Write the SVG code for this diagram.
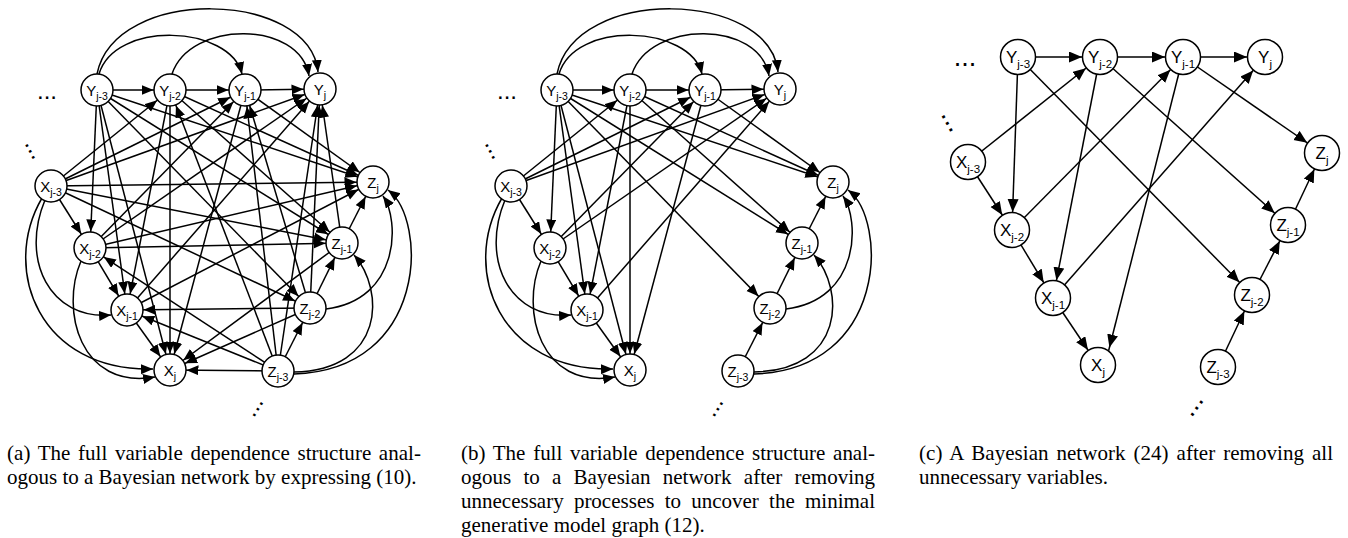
<svg xmlns="http://www.w3.org/2000/svg" width="1348" height="538" viewBox="0 0 1348 538">
<style>
.e{fill:none;stroke:#000;stroke-width:1.5}
.s{marker-end:url(#mS)}
.t{marker-end:url(#mT)}
.sc{marker-end:url(#mC)}
.n circle{fill:#fff;stroke:#000;stroke-width:1.5}
.n text{font-family:"Liberation Sans",Arial,sans-serif;font-size:15px;text-anchor:middle;fill:#000}
.n tspan{font-size:10.5px}
.nc text{font-size:17px}
.nc tspan{font-size:11.5px}
.dots{font-family:"Liberation Sans",Arial,sans-serif;font-size:24px;text-anchor:middle;fill:#000}
.cap{font-family:"Liberation Serif","Times New Roman",serif;font-size:21px;fill:#000}
</style>
<defs>
<marker id="mS" markerUnits="userSpaceOnUse" markerWidth="13" markerHeight="11" refX="28.5" refY="5" orient="auto"><path d="M0,0 L12,5 L0,10 Z"/></marker>
<marker id="mT" markerUnits="userSpaceOnUse" markerWidth="13" markerHeight="11" refX="12" refY="5" orient="auto"><path d="M0,0 L12,5 L0,10 Z"/></marker>
<marker id="mC" markerUnits="userSpaceOnUse" markerWidth="14" markerHeight="12" refX="31" refY="5.5" orient="auto"><path d="M0,0 L13,5.5 L0,11 Z"/></marker>
</defs>
<rect width="1348" height="538" fill="#fff"/>

<!-- (a) full dependence structure -->
<g id="panel-a">
<g id="edges-a" class="e">
<path class="t" d="M99,74 C115,20 230,25 242,74"/>
<path class="t" d="M97,74 C115,-15 310,-10 318,72"/>
<path class="t" d="M172,74 C190,20 300,20 309,76"/>
<path class="t" d="M42,198 C0,270 40,372 153,369"/>
<path class="t" d="M45,200 C20,260 50,320 111,315"/>
<path class="t" d="M81,261 C60,310 80,390 155,377"/>
<path class="t" d="M294,374 C428,370 428,220 388,190"/>
<path class="t" d="M294,372 C385,370 385,290 354,255"/>
<path class="t" d="M326,309 C400,300 400,220 383,196"/>
<line class="s" x1="97" y1="90" x2="170" y2="90"/>
<line class="s" x1="170" y1="90" x2="245" y2="90"/>
<line class="s" x1="245" y1="90" x2="320" y2="89"/>
<line class="s" x1="51" y1="186" x2="90" y2="248"/>
<line class="s" x1="90" y1="248" x2="127" y2="310"/>
<line class="s" x1="127" y1="310" x2="170" y2="370"/>
<line class="s" x1="278" y1="371" x2="310" y2="308"/>
<line class="s" x1="310" y1="308" x2="342" y2="243"/>
<line class="s" x1="342" y1="243" x2="373" y2="182"/>
<line class="s" x1="51" y1="186" x2="170" y2="90"/>
<line class="s" x1="51" y1="186" x2="245" y2="90"/>
<line class="s" x1="51" y1="186" x2="320" y2="89"/>
<line class="s" x1="90" y1="248" x2="245" y2="90"/>
<line class="s" x1="90" y1="248" x2="320" y2="89"/>
<line class="s" x1="127" y1="310" x2="320" y2="89"/>
<line class="s" x1="51" y1="186" x2="310" y2="308"/>
<line class="s" x1="51" y1="186" x2="342" y2="243"/>
<line class="s" x1="51" y1="186" x2="373" y2="182"/>
<line class="s" x1="90" y1="248" x2="342" y2="243"/>
<line class="s" x1="90" y1="248" x2="373" y2="182"/>
<line class="s" x1="127" y1="310" x2="373" y2="182"/>
<line class="s" x1="97" y1="90" x2="90" y2="248"/>
<line class="s" x1="97" y1="90" x2="127" y2="310"/>
<line class="s" x1="97" y1="90" x2="170" y2="370"/>
<line class="s" x1="170" y1="90" x2="127" y2="310"/>
<line class="s" x1="170" y1="90" x2="170" y2="370"/>
<line class="s" x1="245" y1="90" x2="170" y2="370"/>
<line class="s" x1="97" y1="90" x2="310" y2="308"/>
<line class="s" x1="97" y1="90" x2="342" y2="243"/>
<line class="s" x1="97" y1="90" x2="373" y2="182"/>
<line class="s" x1="170" y1="90" x2="342" y2="243"/>
<line class="s" x1="170" y1="90" x2="373" y2="182"/>
<line class="s" x1="245" y1="90" x2="373" y2="182"/>
<line class="s" x1="278" y1="371" x2="90" y2="248"/>
<line class="s" x1="278" y1="371" x2="127" y2="310"/>
<line class="s" x1="278" y1="371" x2="170" y2="370"/>
<line class="s" x1="310" y1="308" x2="127" y2="310"/>
<line class="s" x1="310" y1="308" x2="170" y2="370"/>
<line class="s" x1="342" y1="243" x2="170" y2="370"/>
<line class="s" x1="278" y1="371" x2="170" y2="90"/>
<line class="s" x1="278" y1="371" x2="245" y2="90"/>
<line class="s" x1="278" y1="371" x2="320" y2="89"/>
<line class="s" x1="310" y1="308" x2="245" y2="90"/>
<line class="s" x1="310" y1="308" x2="320" y2="89"/>
<line class="s" x1="342" y1="243" x2="320" y2="89"/>
</g>
<g id="a-Y3" class="n"><circle cx="97" cy="90" r="16"/><text x="97" y="95.5">Y<tspan dy="4">j-3</tspan></text></g>
<g id="a-Y2" class="n"><circle cx="170" cy="90" r="16"/><text x="170" y="95.5">Y<tspan dy="4">j-2</tspan></text></g>
<g id="a-Y1" class="n"><circle cx="245" cy="90" r="16"/><text x="245" y="95.5">Y<tspan dy="4">j-1</tspan></text></g>
<g id="a-Y0" class="n"><circle cx="320" cy="89" r="16"/><text x="320" y="94.5">Y<tspan dy="4">j</tspan></text></g>
<g id="a-X3" class="n"><circle cx="51" cy="186" r="16"/><text x="51" y="191.5">X<tspan dy="4">j-3</tspan></text></g>
<g id="a-X2" class="n"><circle cx="90" cy="248" r="16"/><text x="90" y="253.5">X<tspan dy="4">j-2</tspan></text></g>
<g id="a-X1" class="n"><circle cx="127" cy="310" r="16"/><text x="127" y="315.5">X<tspan dy="4">j-1</tspan></text></g>
<g id="a-X0" class="n"><circle cx="170" cy="370" r="16"/><text x="170" y="375.5">X<tspan dy="4">j</tspan></text></g>
<g id="a-Z0" class="n"><circle cx="373" cy="182" r="16"/><text x="373" y="187.5">Z<tspan dy="4">j</tspan></text></g>
<g id="a-Z1" class="n"><circle cx="342" cy="243" r="16"/><text x="342" y="248.5">Z<tspan dy="4">j-1</tspan></text></g>
<g id="a-Z2" class="n"><circle cx="310" cy="308" r="16"/><text x="310" y="313.5">Z<tspan dy="4">j-2</tspan></text></g>
<g id="a-Z3" class="n"><circle cx="278" cy="371" r="16"/><text x="278" y="376.5">Z<tspan dy="4">j-3</tspan></text></g>
<text class="dots" x="47" y="99">...</text>
<text class="dots" transform="translate(29,152) rotate(62)">...</text>
<text class="dots" transform="translate(259,410) rotate(-59)">...</text>
</g>

<!-- (b) after removing unnecessary processes -->
<g id="panel-b" transform="translate(460,0)">
<g id="edges-b" class="e">
<path class="t" d="M99,74 C115,20 230,25 242,74"/>
<path class="t" d="M97,74 C115,-15 310,-10 318,72"/>
<path class="t" d="M172,74 C190,20 300,20 309,76"/>
<path class="t" d="M42,198 C0,270 40,372 153,369"/>
<path class="t" d="M45,200 C20,260 50,320 111,315"/>
<path class="t" d="M81,261 C60,310 80,390 155,377"/>
<path class="t" d="M294,374 C428,370 428,220 388,190"/>
<path class="t" d="M294,372 C385,370 385,290 354,255"/>
<path class="t" d="M326,309 C400,300 400,220 383,196"/>
<line class="s" x1="97" y1="90" x2="170" y2="90"/>
<line class="s" x1="170" y1="90" x2="245" y2="90"/>
<line class="s" x1="245" y1="90" x2="320" y2="89"/>
<line class="s" x1="51" y1="186" x2="90" y2="248"/>
<line class="s" x1="90" y1="248" x2="127" y2="310"/>
<line class="s" x1="127" y1="310" x2="170" y2="370"/>
<line class="s" x1="278" y1="371" x2="310" y2="308"/>
<line class="s" x1="310" y1="308" x2="342" y2="243"/>
<line class="s" x1="342" y1="243" x2="373" y2="182"/>
<line class="s" x1="51" y1="186" x2="170" y2="90"/>
<line class="s" x1="51" y1="186" x2="245" y2="90"/>
<line class="s" x1="51" y1="186" x2="320" y2="89"/>
<line class="s" x1="90" y1="248" x2="245" y2="90"/>
<line class="s" x1="90" y1="248" x2="320" y2="89"/>
<line class="s" x1="127" y1="310" x2="320" y2="89"/>
<line class="s" x1="97" y1="90" x2="90" y2="248"/>
<line class="s" x1="97" y1="90" x2="127" y2="310"/>
<line class="s" x1="97" y1="90" x2="170" y2="370"/>
<line class="s" x1="170" y1="90" x2="127" y2="310"/>
<line class="s" x1="170" y1="90" x2="170" y2="370"/>
<line class="s" x1="245" y1="90" x2="170" y2="370"/>
<line class="s" x1="97" y1="90" x2="310" y2="308"/>
<line class="s" x1="97" y1="90" x2="342" y2="243"/>
<line class="s" x1="97" y1="90" x2="373" y2="182"/>
<line class="s" x1="170" y1="90" x2="342" y2="243"/>
<line class="s" x1="170" y1="90" x2="373" y2="182"/>
<line class="s" x1="245" y1="90" x2="373" y2="182"/>
</g>
<g id="b-Y3" class="n"><circle cx="97" cy="90" r="16"/><text x="97" y="95.5">Y<tspan dy="4">j-3</tspan></text></g>
<g id="b-Y2" class="n"><circle cx="170" cy="90" r="16"/><text x="170" y="95.5">Y<tspan dy="4">j-2</tspan></text></g>
<g id="b-Y1" class="n"><circle cx="245" cy="90" r="16"/><text x="245" y="95.5">Y<tspan dy="4">j-1</tspan></text></g>
<g id="b-Y0" class="n"><circle cx="320" cy="89" r="16"/><text x="320" y="94.5">Y<tspan dy="4">j</tspan></text></g>
<g id="b-X3" class="n"><circle cx="51" cy="186" r="16"/><text x="51" y="191.5">X<tspan dy="4">j-3</tspan></text></g>
<g id="b-X2" class="n"><circle cx="90" cy="248" r="16"/><text x="90" y="253.5">X<tspan dy="4">j-2</tspan></text></g>
<g id="b-X1" class="n"><circle cx="127" cy="310" r="16"/><text x="127" y="315.5">X<tspan dy="4">j-1</tspan></text></g>
<g id="b-X0" class="n"><circle cx="170" cy="370" r="16"/><text x="170" y="375.5">X<tspan dy="4">j</tspan></text></g>
<g id="b-Z0" class="n"><circle cx="373" cy="182" r="16"/><text x="373" y="187.5">Z<tspan dy="4">j</tspan></text></g>
<g id="b-Z1" class="n"><circle cx="342" cy="243" r="16"/><text x="342" y="248.5">Z<tspan dy="4">j-1</tspan></text></g>
<g id="b-Z2" class="n"><circle cx="310" cy="308" r="16"/><text x="310" y="313.5">Z<tspan dy="4">j-2</tspan></text></g>
<g id="b-Z3" class="n"><circle cx="278" cy="371" r="16"/><text x="278" y="376.5">Z<tspan dy="4">j-3</tspan></text></g>
<text class="dots" x="47" y="99">...</text>
<text class="dots" transform="translate(29,152) rotate(62)">...</text>
<text class="dots" transform="translate(259,410) rotate(-59)">...</text>
</g>

<!-- (c) Bayesian network after removing unnecessary variables -->
<g id="panel-c">
<g id="edges-c" class="e">
<line class="sc" x1="1018" y1="57" x2="1100" y2="57"/>
<line class="sc" x1="1100" y1="57" x2="1183" y2="57"/>
<line class="sc" x1="1183" y1="57" x2="1265" y2="57"/>
<line class="sc" x1="968" y1="162" x2="1012" y2="230"/>
<line class="sc" x1="1012" y1="230" x2="1053" y2="298"/>
<line class="sc" x1="1053" y1="298" x2="1098" y2="365"/>
<line class="sc" x1="1218" y1="367" x2="1252" y2="295"/>
<line class="sc" x1="1252" y1="295" x2="1288" y2="225"/>
<line class="sc" x1="1288" y1="225" x2="1322" y2="153"/>
<line class="sc" x1="1018" y1="57" x2="1012" y2="230"/>
<line class="sc" x1="1018" y1="57" x2="1252" y2="295"/>
<line class="sc" x1="968" y1="162" x2="1100" y2="57"/>
<line class="sc" x1="1100" y1="57" x2="1053" y2="298"/>
<line class="sc" x1="1100" y1="57" x2="1288" y2="225"/>
<line class="sc" x1="1012" y1="230" x2="1183" y2="57"/>
<line class="sc" x1="1183" y1="57" x2="1105" y2="365"/>
<line class="sc" x1="1183" y1="57" x2="1322" y2="153"/>
<line class="sc" x1="1053" y1="298" x2="1265" y2="57"/>
</g>
<g id="c-Y3" class="n nc"><circle cx="1018" cy="57" r="17.5"/><text x="1018" y="63">Y<tspan dy="4.5">j-3</tspan></text></g>
<g id="c-Y2" class="n nc"><circle cx="1100" cy="57" r="17.5"/><text x="1100" y="63">Y<tspan dy="4.5">j-2</tspan></text></g>
<g id="c-Y1" class="n nc"><circle cx="1183" cy="57" r="17.5"/><text x="1183" y="63">Y<tspan dy="4.5">j-1</tspan></text></g>
<g id="c-Y0" class="n nc"><circle cx="1265" cy="57" r="17.5"/><text x="1265" y="63">Y<tspan dy="4.5">j</tspan></text></g>
<g id="c-X3" class="n nc"><circle cx="968" cy="162" r="17.5"/><text x="968" y="168">X<tspan dy="4.5">j-3</tspan></text></g>
<g id="c-X2" class="n nc"><circle cx="1012" cy="230" r="17.5"/><text x="1012" y="236">X<tspan dy="4.5">j-2</tspan></text></g>
<g id="c-X1" class="n nc"><circle cx="1053" cy="298" r="17.5"/><text x="1053" y="304">X<tspan dy="4.5">j-1</tspan></text></g>
<g id="c-X0" class="n nc"><circle cx="1098" cy="365" r="17.5"/><text x="1098" y="371">X<tspan dy="4.5">j</tspan></text></g>
<g id="c-Z0" class="n nc"><circle cx="1322" cy="153" r="17.5"/><text x="1322" y="159">Z<tspan dy="4.5">j</tspan></text></g>
<g id="c-Z1" class="n nc"><circle cx="1288" cy="225" r="17.5"/><text x="1288" y="231">Z<tspan dy="4.5">j-1</tspan></text></g>
<g id="c-Z2" class="n nc"><circle cx="1252" cy="295" r="17.5"/><text x="1252" y="301">Z<tspan dy="4.5">j-2</tspan></text></g>
<g id="c-Z3" class="n nc"><circle cx="1218" cy="367" r="17.5"/><text x="1218" y="373">Z<tspan dy="4.5">j-3</tspan></text></g>
<text class="dots" style="font-size:27px" x="965" y="66">...</text>
<text class="dots" style="font-size:27px" transform="translate(946,124) rotate(61)">...</text>
<text class="dots" style="font-size:27px" transform="translate(1198,409) rotate(-55)">...</text>
</g>

<!-- captions -->
<g id="captions" class="cap">
<text x="7" y="460" textLength="414" lengthAdjust="spacing" word-spacing="2.3">(a) The full variable dependence structure anal-</text>
<text x="7" y="484">ogous to a Bayesian network by expressing (10).</text>
<text x="461" y="460" textLength="414" lengthAdjust="spacing" word-spacing="2.5">(b) The full variable dependence structure anal-</text>
<text x="461" y="484" textLength="414" lengthAdjust="spacing" word-spacing="7">ogous to a Bayesian network after removing</text>
<text x="461" y="508" textLength="414" lengthAdjust="spacing" word-spacing="5">unnecessary processes to uncover the minimal</text>
<text x="461" y="532">generative model graph (12).</text>
<text x="919" y="460" textLength="414" lengthAdjust="spacing" word-spacing="2.7">(c) A Bayesian network (24) after removing all</text>
<text x="919" y="484">unnecessary variables.</text>
</g>
</svg>
